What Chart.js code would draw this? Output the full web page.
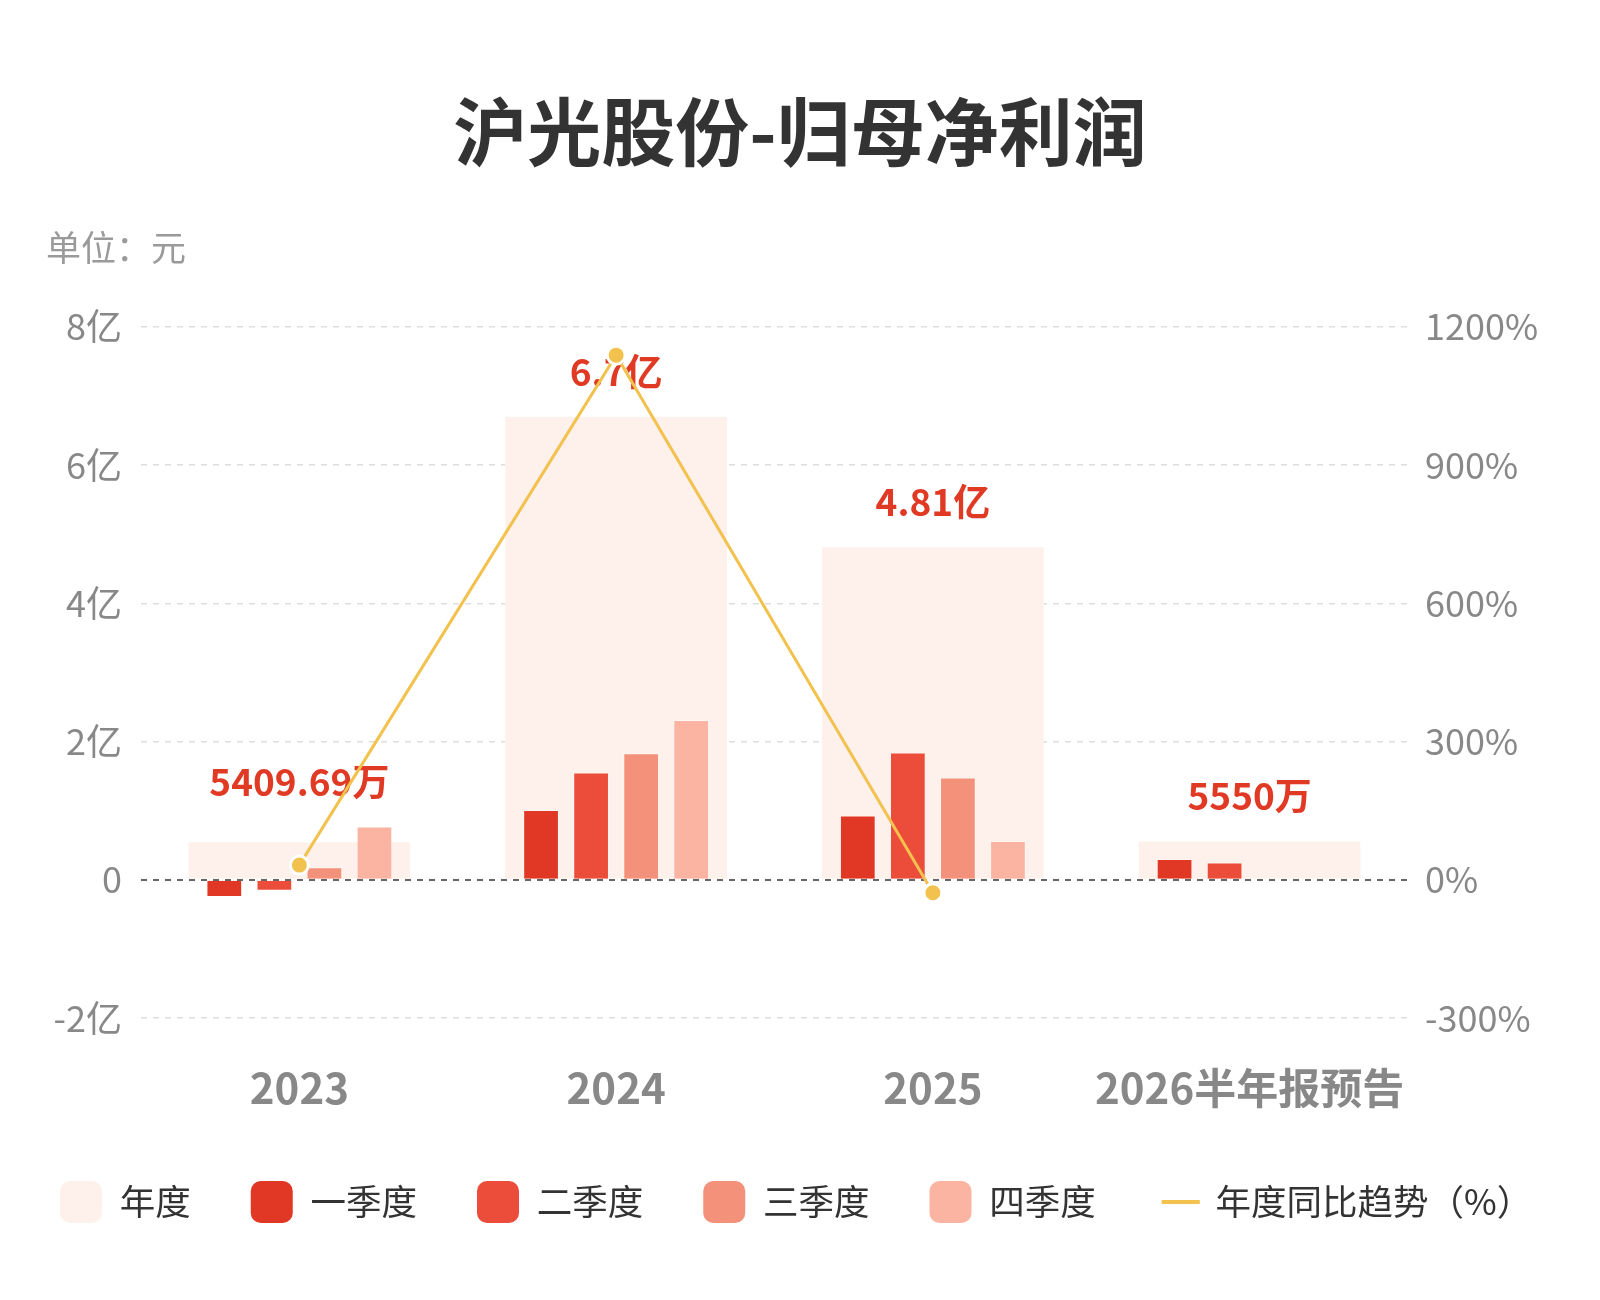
<!DOCTYPE html>
<html lang="zh-CN">
<head>
<meta charset="utf-8">
<title>沪光股份-归母净利润</title>
<script src="https://cdn.jsdelivr.net/npm/chart.js@4.4.1/dist/chart.umd.min.js"></script>
<style>
  html, body { margin: 0; padding: 0; background: #fff; }
  #wrap { width: 1600px; height: 1300px; }
</style>
</head>
<body>
<div id="wrap"><canvas id="chart"></canvas></div>
<script>
// values in 亿元, yoy in %
const CATEGORIES = ["2023", "2024", "2025", "2026半年报预告"]
const ANNUAL = [0.541, 6.7, 4.81, 0.555]
const ANNUAL_LABELS = ["5409.69万", "6.7亿", "4.81亿", "5550万"]
const Q1 = [-0.25, 1.01, 0.93, 0.3]
const Q2 = [-0.16, 1.55, 1.84, 0.25]
const Q3 = [0.18, 1.83, 1.48, null]
const Q4 = [0.77, 2.31, 0.56, null]
const YOY = [31.8, 1138.5, -28.2, null]

const SERIES_NAMES = ["年度", "一季度", "二季度", "三季度", "四季度", "年度同比趋势（%）"]

const ANNUAL_BG = "#fef1ec"
const Q1_RED = "#e03824"
const Q2_RED = "#ec4c3a"
const Q3_SALMON = "#f4917a"
const Q4_PEACH = "#fcb4a2"
const LINE_GOLD = "#f2c14e"
const LABEL_RED = "#e03a25"

const NUM_FONT = '"Liberation Sans Narrow", "Noto Sans CJK SC", sans-serif'
const CJK_FONT = '"Noto Sans CJK SC", sans-serif'

const LINE_INDEX = 5

const valueLabels = {
  id: "valueLabels",
  beforeDatasetDraw(chart, args) {
    if (args.index !== LINE_INDEX) return
    const { ctx } = chart
    const x = chart.scales.x
    const y = chart.scales.y

    ctx.save()
    ctx.font = `bold 37px ${NUM_FONT}`
    ctx.fillStyle = LABEL_RED
    ctx.textAlign = "center"
    ctx.textBaseline = "middle"
    CATEGORIES.forEach((_, i) => {
      const top = Math.max(ANNUAL[i], Q1[i] ?? 0, Q2[i] ?? 0, Q3[i] ?? 0, Q4[i] ?? 0)
      ctx.fillText(ANNUAL_LABELS[i], x.getPixelForValue(i), y.getPixelForValue(top) - 45)
    })
    ctx.restore()
  },
}

const extras = {
  id: "extras",
  afterDraw(chart) {
    const { ctx } = chart
    ctx.save()

    // unit note under the title
    ctx.font = `35px ${CJK_FONT}`
    ctx.fillStyle = "#9a9a9a"
    ctx.textAlign = "left"
    ctx.textBaseline = "middle"
    ctx.fillText("单位：元", 46, 248)

    // legend swatch for the line series
    const legend = chart.legend
    const idx = legend.legendItems.findIndex((it) => it.datasetIndex === LINE_INDEX)
    const box = legend.legendHitBoxes[idx]
    if (box) {
      ctx.beginPath()
      ctx.moveTo(box.left + 6, box.top + 21)
      ctx.lineTo(box.left + 44, box.top + 21)
      ctx.strokeStyle = LINE_GOLD
      ctx.lineWidth = 4
      ctx.stroke()
    }
    ctx.restore()
  },
}

const quarter = (label, data, color) => ({
  label: label,
  data: data,
  backgroundColor: color,
  borderColor: "rgba(255,255,255,0.35)",
  borderWidth: 1,
  yAxisID: "y",
  categoryPercentage: 0.632,
  barPercentage: 0.714,
  order: 1,
})

new Chart(document.getElementById("chart"), {
  type: "bar",
  data: {
    labels: CATEGORIES,
    datasets: [
      {
        label: SERIES_NAMES[0],
        data: ANNUAL,
        backgroundColor: ANNUAL_BG,
        borderWidth: 0,
        yAxisID: "y",
        grouped: false,
        categoryPercentage: 1,
        barPercentage: 0.7,
        order: 2,
      },
      quarter(SERIES_NAMES[1], Q1, Q1_RED),
      quarter(SERIES_NAMES[2], Q2, Q2_RED),
      quarter(SERIES_NAMES[3], Q3, Q3_SALMON),
      quarter(SERIES_NAMES[4], Q4, Q4_PEACH),
      {
        type: "line",
        label: SERIES_NAMES[5],
        data: YOY,
        borderColor: LINE_GOLD,
        backgroundColor: LINE_GOLD,
        borderWidth: 3,
        pointRadius: 9,
        pointBorderWidth: 3,
        pointBorderColor: "#fff",
        pointBackgroundColor: LINE_GOLD,
        tension: 0,
        yAxisID: "y1",
        order: 0,
      },
    ],
  },
  options: {
    animation: false,
    responsive: true,
    maintainAspectRatio: false,
    layout: { padding: { left: 0, right: 0, top: 0, bottom: 67 } },
    plugins: {
      tooltip: { enabled: false },
      title: {
        display: true,
        text: "沪光股份-归母净利润",
        color: "#333",
        font: { family: CJK_FONT, size: 74, weight: "bold" },
        padding: { top: 87, bottom: 151 },
      },
      legend: {
        position: "bottom",
        align: "start",
        labels: {
          color: "#333",
          font: { family: CJK_FONT, size: 35.5 },
          boxWidth: 42,
          boxHeight: 42,
          padding: 60,
          sort: (a, b) => a.datasetIndex - b.datasetIndex,
          generateLabels(chart) {
            const items = Chart.defaults.plugins.legend.labels.generateLabels(chart)
            return items.map((it) => ({
              ...it,
              lineWidth: 0,
              borderRadius: 10,
              fillStyle: it.datasetIndex === LINE_INDEX ? "rgba(0,0,0,0)" : it.fillStyle,
              strokeStyle: "rgba(0,0,0,0)",
            }))
          },
          useBorderRadius: true,
          borderRadius: 10,
        },
      },
    },
    scales: {
      x: {
        type: "category",
        offset: true,
        grid: { display: false, drawTicks: false },
        border: { display: false },
        ticks: {
          color: "#888",
          font: { family: NUM_FONT, size: 42, weight: "bold" },
          padding: 45,
          autoSkip: false,
          maxRotation: 0,
        },
        afterFit: (scale) => { scale.height = 103 },
      },
      y: {
        position: "left",
        min: -2,
        max: 8,
        grid: {
          drawTicks: false,
          color: (c) => (c.tick.value === 0 ? "#666" : "#dedede"),
          lineWidth: (c) => (c.tick.value === 0 ? 2 : 1.5),
        },
        border: { display: false, dash: [6, 6] },
        ticks: {
          stepSize: 2,
          color: "#888",
          font: { family: NUM_FONT, size: 36 },
          padding: 19,
          callback: (v) => (v === 0 ? "0" : `${v}亿`),
        },
        afterFit: (scale) => { scale.width = 141 },
      },
      y1: {
        position: "right",
        min: -300,
        max: 1200,
        grid: { drawOnChartArea: false, drawTicks: false },
        border: { display: false },
        ticks: {
          stepSize: 300,
          color: "#888",
          font: { family: NUM_FONT, size: 36 },
          padding: 17,
          callback: (v) => `${v}%`,
        },
        afterFit: (scale) => { scale.width = 192 },
      },
    },
  },
  plugins: [valueLabels, extras],
})
</script>
</body>
</html>
